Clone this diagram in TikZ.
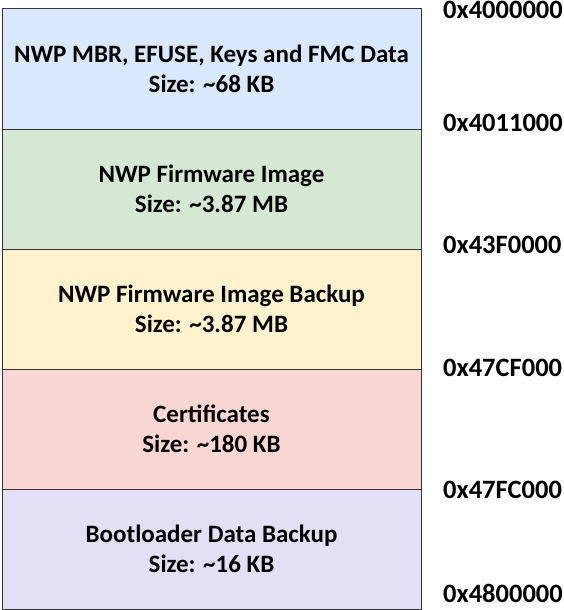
\documentclass[tikz,border=0pt]{standalone}
\usepackage{fontspec}
\setmainfont{Carlito}
\definecolor{cblue}{HTML}{DAE8FC}
\definecolor{cgreen}{HTML}{D5E8D4}
\definecolor{cyellow}{HTML}{FFF2CC}
\definecolor{cred}{HTML}{F8D7D3}
\definecolor{cpurple}{HTML}{E3E0F5}
\begin{document}
\begin{tikzpicture}[x=1pt,y=-1pt,
  seg/.style={draw=black!80, line width=1pt, minimum width=419pt, minimum height=120pt, inner sep=0pt, anchor=north west, align=center, font=\bfseries\fontsize{25}{30}\selectfont},
  addr/.style={anchor=west, inner sep=0pt, font=\bfseries\fontsize{26.5}{30}\selectfont}]
\useasboundingbox (0,0) rectangle (564,610);
\node[seg, fill=cblue] (s1) at (1.5,8.5) {NWP MBR, EFUSE, Keys and FMC Data\\Size: \textasciitilde68 KB};
\node[seg, fill=cgreen] (s2) at (1.5,128.5) {NWP Firmware Image\\Size: \textasciitilde3.87 MB};
\node[seg, fill=cyellow] (s3) at (1.5,248.5) {NWP Firmware Image Backup\\Size: \textasciitilde3.87 MB};
\node[seg, fill=cred] (s4) at (1.5,368.5) {Certificates\\Size: \textasciitilde180 KB};
\node[seg, fill=cpurple] (s5) at (1.5,488.5) {Bootloader Data Backup\\Size: \textasciitilde16 KB};
\node[addr] (a0) at (443,10) {0x4000000};
\node[addr] (a1) at (443,123) {0x4011000};
\node[addr] (a2) at (443,245) {0x43F0000};
\node[addr] (a3) at (443,368) {0x47CF000};
\node[addr] (a4) at (443,490) {0x47FC000};
\node[addr] (a5) at (443,593) {0x4800000};
\end{tikzpicture}
\end{document}
